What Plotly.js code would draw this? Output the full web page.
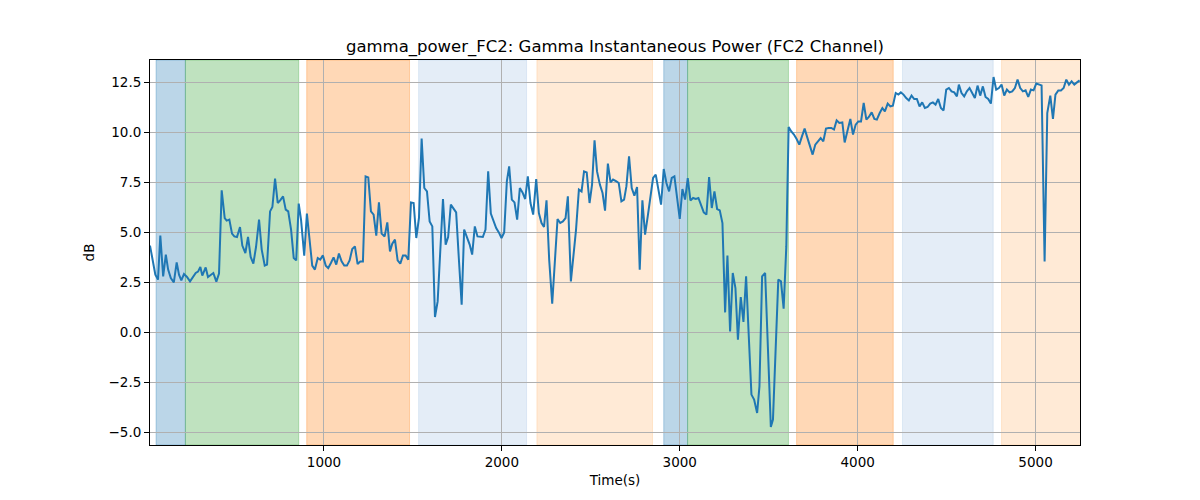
<!DOCTYPE html>
<html>
<head>
<meta charset="utf-8">
<script src="https://cdn.plot.ly/plotly-3.0.1.min.js"></script>
<style>html,body{margin:0;padding:0;background:#fff;}#chart{width:1200px;height:500px;}</style>
</head>
<body>
<div id="chart"></div>
<script>
// Time (s) of each sample
const timeSec = [22,52,67,80,96,111,124,139,156,172,185,198,213,230,247,264,279,292,305,316,335,348,363,378,395,410,425,442,453,468,483,496,511,528,541,558,573,588,603,618,635,650,667,680,697,710,725,740,754,770,785,799,815,830,844,858,871,889,904,920,934,949,965,979,994,1010,1024,1039,1054,1069,1084,1099,1114,1129,1144,1159,1174,1189,1204,1219,1234,1249,1264,1279,1294,1309,1324,1341,1356,1371,1384,1399,1414,1429,1444,1459,1474,1489,1504,1519,1534,1549,1564,1579,1594,1609,1624,1639,1654,1669,1684,1698,1713,1729,1743,1758,1774,1788,1803,1819,1833,1848,1863,1878,1893,1908,1923,1938,1953,1968,1983,1998,2013,2028,2041,2056,2071,2086,2101,2116,2131,2146,2161,2176,2193,2208,2223,2237,2251,2266,2283,2298,2313,2328,2343,2358,2371,2388,2403,2417,2433,2448,2462,2477,2493,2507,2521,2535,2551,2566,2580,2596,2611,2625,2644,2657,2672,2687,2700,2715,2730,2745,2760,2775,2790,2805,2820,2835,2850,2865,2880,2895,2910,2925,2940,2955,2970,2985,3000,3015,3030,3045,3060,3075,3090,3105,3120,3135,3150,3165,3180,3195,3210,3225,3240,3255,3268,3283,3298,3313,3327,3343,3358,3373,3388,3403,3418,3435,3448,3463,3480,3495,3512,3524,3539,3554,3569,3584,3599,3612,3627,3642,3657,3672,3687,3702,3715,3729,3747,3762,3777,3792,3807,3822,3837,3852,3867,3882,3897,3914,3927,3942,3959,3974,3989,4004,4019,4034,4049,4063,4079,4094,4108,4124,4139,4153,4169,4184,4198,4214,4229,4243,4258,4273,4288,4303,4318,4333,4348,4363,4378,4393,4408,4423,4438,4453,4468,4483,4498,4513,4528,4543,4558,4569,4584,4599,4614,4629,4644,4659,4674,4689,4704,4719,4734,4749,4764,4779,4794,4809,4824,4839,4854,4869,4884,4899,4914,4929,4944,4959,4974,4989,5004,5019,5034,5051,5066,5083,5098,5112,5128,5143,5158,5173,5188,5203,5218,5233,5248];

// Gamma instantaneous power (dB)
const powerDb = [4.32,2.87,2.62,4.82,2.78,3.87,3.12,2.7,2.48,3.48,2.87,2.58,2.9,2.75,2.53,2.75,2.95,3.02,3.25,2.82,3.23,2.75,2.87,2.95,2.52,2.92,7.08,5.7,5.57,5.62,4.92,4.78,4.75,5.25,4.32,3.95,4.75,3.75,3.42,4.25,5.62,4.12,3.32,3.37,6.03,6.25,7.67,6.45,6.58,6.78,6.12,6.03,5.12,3.7,3.58,6.42,5.62,3.82,5.92,4.62,3.32,3.12,3.7,3.62,3.83,3.32,3.2,3.45,3.73,3.37,3.92,3.53,3.32,3.32,3.58,4.15,4.28,3.4,3.52,3.52,7.78,7.73,6.03,5.87,4.82,6.48,4.92,4.78,5.48,4.03,4.42,4.62,3.58,3.42,3.83,3.83,3.62,6.48,6.45,4.7,5.7,9.67,7.2,7.03,5.53,5.28,0.75,1.53,4.12,6.65,4.37,4.75,6.37,6.15,5.98,3.7,1.37,5.12,4.78,4.37,3.87,5.28,4.78,4.78,4.75,5.12,8.03,5.92,5.53,5.2,4.98,4.7,4.98,7.53,8.28,6.62,6.48,5.62,7.2,6.98,6.65,7.78,6.45,5.87,7.65,5.95,5.45,5.25,6.58,3.62,1.42,3.53,5.65,5.45,5.53,5.7,6.78,2.53,3.87,5.12,7.12,7.03,8.03,7.98,6.45,7.37,9.58,8.03,7.37,6.95,6.07,8.42,7.48,7.62,7.53,7.45,6.53,6.62,7.28,8.78,7.2,6.82,7.25,3.12,6.58,4.87,5.78,6.78,7.7,7.87,7.12,6.37,8.15,7.45,7.03,7.7,7.78,6.78,5.65,7.15,6.62,7.7,6.58,6.7,6.65,6.7,6.28,5.98,5.87,7.75,6.2,7.03,6.15,6.08,5.45,0.98,3.82,0.03,2.95,2.2,-0.38,1.75,0.5,2.78,-0.2,-3.13,-3.38,-4.05,-2.72,2.78,2.95,-1.0,-4.75,-4.38,-1.0,2.62,2.53,1.17,4.28,10.25,10.03,9.87,9.65,9.37,9.78,10.17,9.78,9.37,8.87,9.37,9.53,9.7,9.53,10.17,10.2,10.2,10.12,10.58,10.45,10.48,9.48,10.03,10.65,9.87,10.37,10.53,10.53,11.45,10.62,10.75,10.98,10.65,10.62,10.95,11.2,11.03,11.42,11.28,11.32,11.95,11.87,11.98,11.87,11.7,11.58,11.82,11.65,11.65,11.28,11.48,11.2,11.25,11.42,11.48,11.37,11.65,11.2,11.08,12.12,12.2,12.03,11.98,11.78,12.37,11.95,11.78,12.03,12.2,11.92,11.7,12.32,11.82,12.28,11.75,11.65,11.42,12.75,12.12,12.2,12.37,11.82,12.12,11.98,12.03,12.2,12.62,12.2,12.03,12.08,11.75,12.12,12.08,12.42,12.37,12.33,3.53,10.95,11.82,10.65,11.87,12.08,12.08,12.2,12.62,12.37,12.53,12.37,12.48,12.58];

// Shaded stage intervals (s)
const spanStart = [56, 221, 903, 1532, 2197, 2910, 3044, 3657, 4252, 4809];
const spanEnd   = [221, 858, 1481, 2139, 2847, 3044, 3611, 4200, 4762, 5300];
const spanKind  = ['blue','green','orange','lightblue','lightorange','blue','green','orange','lightblue','lightorange'];

// Tick values
const xTicks = [1000, 2000, 3000, 4000, 5000];
const yTicks = [-5, -2.5, 0, 2.5, 5, 7.5, 10, 12.5];

const kindColor = {
  blue: 'rgba(31,119,180,0.3)',
  green: 'rgba(44,160,44,0.3)',
  orange: 'rgba(255,127,14,0.3)',
  lightblue: 'rgba(174,199,232,0.33)',
  lightorange: 'rgba(255,187,120,0.3)'
};

const shapes = spanStart.map((s, i) => ({
  type: 'rect', xref: 'x', yref: 'paper', x0: s, x1: spanEnd[i], y0: 0, y1: 1,
  fillcolor: kindColor[spanKind[i]], line: {width: 1, color: kindColor[spanKind[i]]}, layer: 'below'
}));

const font = {family: 'DejaVu Sans, sans-serif', size: 13.5, color: '#000'};

const trace = {
  x: timeSec, y: powerDb, type: 'scatter', mode: 'lines',
  line: {color: '#1f77b4', width: 2}, hoverinfo: 'skip'
};

const layout = {
  width: 1200, height: 500,
  margin: {l: 150, r: 120, t: 60, b: 55},
  paper_bgcolor: '#fff', plot_bgcolor: 'rgba(0,0,0,0)',
  font: font, showlegend: false,
  title: {text: 'gamma_power_FC2: Gamma Instantaneous Power (FC2 Channel)', x: 0.5, xref: 'paper', xanchor: 'center', y: 1 - 46/500, yref: 'container', yanchor: 'middle', font: {family: 'DejaVu Sans, sans-serif', size: 16.5, color: '#000'}},
  xaxis: {
    range: [22, 5250], tickvals: xTicks, ticktext: xTicks.map(String),
    showgrid: true, gridcolor: '#b0b0b0', gridwidth: 1, zeroline: false,
    showline: true, mirror: true, linecolor: '#000', linewidth: 1,
    ticks: 'outside', ticklen: 5, tickcolor: '#000', tickfont: font,
    title: {text: 'Time(s)', font: font, standoff: 6}
  },
  yaxis: {
    range: [-5.65, 13.6], tickvals: yTicks, ticktext: yTicks.map(v => (v < 0 ? '\u2212' : '') + Math.abs(v).toFixed(1)),
    showgrid: true, gridcolor: '#b0b0b0', gridwidth: 1, zeroline: false,
    showline: true, mirror: true, linecolor: '#000', linewidth: 1,
    ticks: 'outside', ticklen: 5, tickcolor: '#000', tickfont: font,
    title: {text: 'dB', font: font, standoff: 10}
  },
  shapes: shapes
};

Plotly.newPlot('chart', [trace], layout, {staticPlot: true, displayModeBar: false});
</script>
</body>
</html>
